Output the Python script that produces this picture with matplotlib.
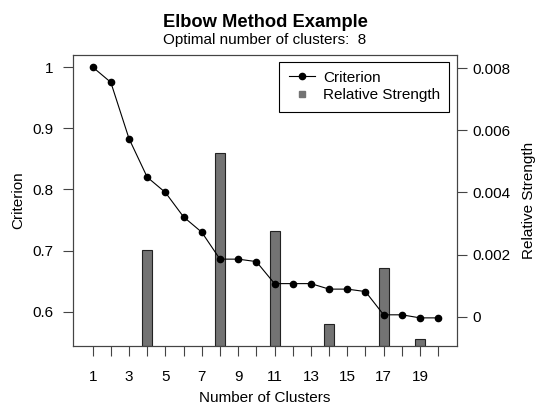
import numpy as np
import matplotlib.pyplot as plt
from matplotlib.lines import Line2D

plt.rcParams['font.family'] = ['Liberation Sans', 'DejaVu Sans']

clusters = list(range(1, 21))
criterion = [1.0, 0.975, 0.883, 0.820, 0.795, 0.755, 0.730, 0.686, 0.686, 0.682,
             0.646, 0.646, 0.646, 0.637, 0.637, 0.633, 0.595, 0.595, 0.590, 0.590]
strength_k = [4, 8, 11, 14, 17, 19]
strength = [0.00215, 0.00526, 0.00275, -0.00022, 0.00156, -0.00071]
optimal = 8

edge = '#444444'

fig = plt.figure(figsize=(5.38, 4.09), dpi=100)
ax = fig.add_axes([0.135, 0.154, 0.715, 0.712])
ax2 = ax.twinx()

# bars on the right axis, standing on the bottom of the box
s_lo, s_hi = -0.000944, 0.00843
ax2.bar(strength_k, np.array(strength) - s_lo, bottom=s_lo, width=0.55,
        color='#737373', edgecolor='#222222', linewidth=0.8)
ax2.set_ylim(s_lo, s_hi)
ax2.set_yticks([0, 0.002, 0.004, 0.006, 0.008])
ax2.set_yticklabels(['0', '0.002', '0.004', '0.006', '0.008'])
ax2.set_ylabel('Relative Strength', fontsize=11, labelpad=8)

# criterion line on top
ax.set_zorder(ax2.get_zorder() + 1)
ax.patch.set_visible(False)
ax.plot(clusters, criterion, color='black', linewidth=0.8, marker='o',
        markersize=4.5)
ax.set_ylim(0.544, 1.020)
ax.set_xlim(-0.1, 21.05)
ax.set_yticks([0.6, 0.7, 0.8, 0.9, 1.0])
ax.set_yticklabels(['0.6', '0.7', '0.8', '0.9', '1'])
ax.set_xticks(clusters)
ax.set_xticklabels([str(k) if k % 2 == 1 else '' for k in clusters])
ax.set_ylabel('Criterion', fontsize=11, labelpad=5)
ax.set_xlabel('Number of Clusters', fontsize=11, labelpad=5)

for a in (ax, ax2):
    for sp in a.spines.values():
        sp.set_color(edge)
    a.tick_params(length=7, width=0.8, color=edge, labelsize=11)
ax.tick_params(axis='x', pad=10)
ax.tick_params(axis='y', pad=7)
ax2.tick_params(axis='y', pad=4)

handles = [Line2D([], [], color='black', marker='o', markersize=4.5, linewidth=0.8),
           Line2D([], [], color='#737373', marker='s', markersize=5, linestyle='none')]
leg = ax.legend(handles, ['Criterion', 'Relative Strength'], loc='upper right',
                bbox_to_anchor=(0.979, 0.977), borderaxespad=0, fontsize=11,
                fancybox=False, framealpha=1, edgecolor='black',
                handlelength=1.75, handletextpad=0.5, labelspacing=0.25,
                borderpad=0.6)
leg.get_frame().set_linewidth(0.8)

cx = 0.135 + 0.715 / 2
fig.text(cx, 1 - 27 / 409, 'Elbow Method Example', ha='center', va='baseline',
         fontsize=13.2, fontweight='bold')
fig.text(cx, 1 - 44 / 409, 'Optimal number of clusters:  %d' % optimal,
         ha='center', va='baseline', fontsize=11)

plt.savefig('out.png')
